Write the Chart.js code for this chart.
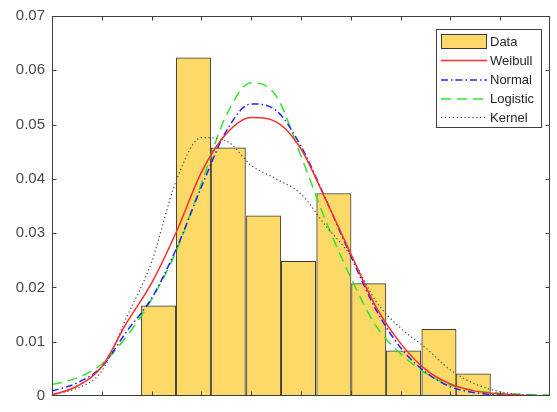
<!DOCTYPE html>
<html>
<head>
<meta charset="utf-8">
<script src="https://cdn.jsdelivr.net/npm/chart.js@4/dist/chart.umd.min.js"></script>
<style>
  html, body { margin: 0; padding: 0; background: #ffffff; }
  #wrap { width: 557px; height: 412px; position: relative; }
</style>
</head>
<body>
<div id="wrap"><canvas id="c" width="557" height="412"></canvas></div>
<script>
// ---- data ----
const binCenters = [2.14, 2.84, 3.54, 4.25, 4.95, 5.66, 6.36, 7.06, 7.77, 8.46];
const binDensity = [0.0166, 0.0623, 0.0457, 0.0332, 0.0248, 0.0373, 0.0207, 0.0083, 0.0123, 0.0041];

const curveX = [0, 0.5, 1, 1.5, 2, 2.5, 3, 3.5, 4, 4.5, 5, 5.5, 6, 6.5, 7, 7.5, 8, 8.5, 9, 9.5, 10];
const weibull  = [0.0002, 0.0018, 0.0054, 0.0135, 0.0208, 0.0303, 0.0412, 0.0483, 0.0513, 0.0505, 0.0455, 0.0361, 0.0262, 0.0165, 0.0097, 0.0049, 0.0022, 0.0009, 0.0004, 0.0001, 0.0000];
const normal   = [0.0009, 0.0024, 0.0054, 0.0119, 0.0180, 0.0272, 0.0385, 0.0488, 0.0538, 0.0526, 0.0460, 0.0362, 0.0258, 0.0160, 0.0089, 0.0044, 0.0017, 0.0006, 0.0002, 0.0001, 0.0000];
const logistic = [0.0021, 0.0033, 0.0059, 0.0110, 0.0178, 0.0268, 0.0392, 0.0517, 0.0577, 0.0553, 0.0442, 0.0322, 0.0218, 0.0130, 0.0078, 0.0042, 0.0020, 0.0010, 0.0005, 0.0003, 0.0002];
const kernel   = [0.0003, 0.0014, 0.0046, 0.0145, 0.0247, 0.0398, 0.0476, 0.0470, 0.0425, 0.0400, 0.0372, 0.0313, 0.0258, 0.0175, 0.0125, 0.0089, 0.0048, 0.0022, 0.0008, 0.0002, 0.0000];

const yTicks = [0, 0.01, 0.02, 0.03, 0.04, 0.05, 0.06, 0.07];
const seriesNames = ['Data', 'Weibull', 'Normal', 'Logistic', 'Kernel'];

// ---- styles ----
const BAR_FILL = 'rgb(253,218,104)';
const BAR_EDGE = '#3a3a3a';
const AXIS_COL = '#404040';
const FONT = "'Liberation Sans', Arial, Helvetica, sans-serif";

function pts(xs, ys) { return xs.map((x, i) => ({ x: x, y: ys[i] })); }

function lineSet(label, ys, color, dash, width, order) {
  return {
    type: 'line', label: label, data: pts(curveX, ys),
    borderColor: color, borderWidth: width, borderDash: dash,
    pointRadius: 0, fill: false, cubicInterpolationMode: 'monotone', order: order
  };
}

const frameAndLegend = {
  id: 'frameAndLegend',
  afterDraw(chart) {
    const ctx = chart.ctx;
    const a = chart.chartArea;
    const xs = chart.scales.x, ys = chart.scales.y;
    const L = Math.round(a.left) + 0.5, R = Math.round(a.right) - 0.5;
    const T = Math.round(a.top) + 0.5, B = Math.round(a.bottom) - 0.5;
    ctx.save();
    ctx.strokeStyle = AXIS_COL;
    ctx.lineWidth = 1;
    ctx.setLineDash([]);
    ctx.strokeRect(L, T, R - L, B - T);
    const tl = 4;
    ctx.beginPath();
    xs.ticks.forEach(t => {
      const px = Math.round(xs.getPixelForValue(t.value)) + 0.5;
      if (px <= L + 1 || px >= R - 1) return;
      ctx.moveTo(px, B); ctx.lineTo(px, B - tl);
      ctx.moveTo(px, T); ctx.lineTo(px, T + tl);
    });
    ys.ticks.forEach(t => {
      const py = Math.round(ys.getPixelForValue(t.value)) + 0.5;
      if (py <= T + 1 || py >= B - 1) return;
      ctx.moveTo(L, py); ctx.lineTo(L + tl, py);
      ctx.moveTo(R, py); ctx.lineTo(R - tl, py);
    });
    ctx.stroke();

    // legend box
    const bx = 436.5, by = 29.5, bw = 105, bh = 98;
    ctx.fillStyle = '#ffffff';
    ctx.fillRect(bx, by, bw, bh);
    ctx.strokeStyle = AXIS_COL;
    ctx.strokeRect(bx, by, bw, bh);
    const rowY = [41.5, 60.5, 80, 99, 117.5];
    const sx0 = 441, sx1 = 487;
    ctx.font = '13px ' + FONT;
    ctx.textBaseline = 'middle';
    ctx.textAlign = 'left';
    chart.data.datasets.forEach((ds, i) => {
      const y = rowY[i];
      if (ds.type === 'bar') {
        ctx.setLineDash([]);
        ctx.fillStyle = BAR_FILL;
        ctx.fillRect(sx0, y - 7.5, sx1 - sx0, 15);
        ctx.strokeStyle = BAR_EDGE;
        ctx.lineWidth = 1;
        ctx.strokeRect(sx0 + 0.5, y - 7.5 + 0.5, sx1 - sx0 - 1, 14);
      } else {
        ctx.setLineDash(ds.borderDash || []);
        ctx.strokeStyle = ds.borderColor;
        ctx.lineWidth = ds.borderWidth;
        ctx.beginPath();
        ctx.moveTo(sx0, y); ctx.lineTo(sx1, y);
        ctx.stroke();
      }
      ctx.setLineDash([]);
      ctx.fillStyle = '#262626';
      ctx.fillText(ds.label, 490, y + 0.5);
    });
    ctx.restore();
  }
};

new Chart(document.getElementById('c'), {
  type: 'bar',
  data: {
    datasets: [
      {
        type: 'bar', label: seriesNames[0], data: pts(binCenters, binDensity),
        backgroundColor: BAR_FILL, borderColor: BAR_EDGE, borderWidth: 1,
        borderSkipped: false, barPercentage: 1.0, categoryPercentage: 1.0, order: 10
      },
      lineSet(seriesNames[1], weibull, 'rgb(255,45,45)', [], 1.5, 1),
      lineSet(seriesNames[2], normal, 'rgb(35,35,255)', [7, 3, 1.5, 3], 1.5, 3),
      lineSet(seriesNames[3], logistic, 'rgb(45,230,45)', [10, 6], 1.5, 4),
      lineSet(seriesNames[4], kernel, 'rgb(80,80,80)', [1.3, 2.6], 1.2, 2)
    ]
  },
  options: {
    responsive: false,
    animation: false,
    devicePixelRatio: 1,
    layout: { padding: { top: 12, right: 7, left: 0, bottom: 0 } },
    plugins: { legend: { display: false }, tooltip: { enabled: false } },
    scales: {
      x: {
        type: 'linear', min: 0, max: 10, offset: false,
        ticks: { display: false, stepSize: 1 },
        grid: { display: false, drawTicks: false },
        border: { display: false },
        afterFit(s) { s.height = 5; }
      },
      y: {
        type: 'linear', min: 0, max: 0.07,
        afterBuildTicks(s) { s.ticks = yTicks.map(v => ({ value: v })); },
        ticks: {
          padding: 7, color: '#4a4a4a',
          font: { size: 15, family: FONT },
          callback: v => (v === 0 ? '0' : v.toFixed(2))
        },
        grid: { display: false, drawTicks: false },
        border: { display: false },
        afterFit(s) { s.width = 52; }
      }
    }
  },
  plugins: [frameAndLegend]
});
</script>
</body>
</html>
